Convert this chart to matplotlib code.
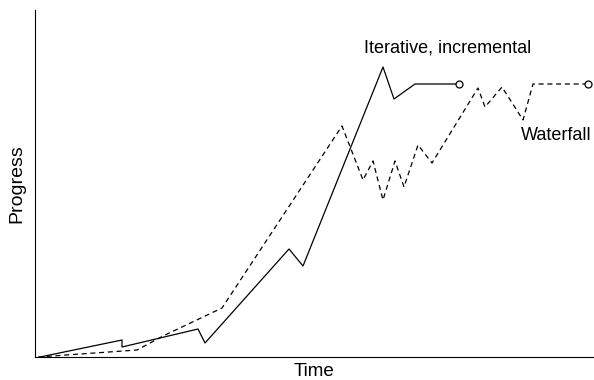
import matplotlib.pyplot as plt

# values (time units, progress units)
iter_time = [40, 122, 122, 198, 205, 289, 303, 383, 394, 415, 459]
iter_progress = [0, 17, 10, 28, 14, 108, 91, 290, 258, 273, 273]

water_time = [38, 137, 163, 222, 342, 363, 373, 383, 395, 404, 418, 432, 478, 485, 502, 523, 533, 588]
water_progress = [0, 7, 21, 49, 231, 177, 196, 157, 196, 170, 212, 194, 269, 250, 270, 237, 273, 273]

plt.rcParams["font.family"] = ["Liberation Sans", "DejaVu Sans"]

fig = plt.figure(figsize=(5.94, 3.8), dpi=100)
ax = fig.add_axes([35 / 594, 1 - 357 / 380, 1 - 35 / 594, 347 / 380])

ax.plot(iter_time, iter_progress, color="black", lw=0.9)
ax.plot(iter_time[-1], iter_progress[-1], "o", mfc="white", mec="black", ms=5, mew=0.9)

ax.plot(water_time, water_progress, color="black", lw=0.9, dashes=(4, 3))
ax.plot(water_time[-1], water_progress[-1], "o", mfc="white", mec="black", ms=5, mew=0.9)

ax.text(448, 309, "Iterative, incremental", ha="center", va="center", fontsize=13)
ax.text(556, 222, "Waterfall", ha="center", va="center", fontsize=13)

ax.set_xlim(35, 594)
ax.set_ylim(0, 347)
ax.set_xticks([])
ax.set_yticks([])
ax.spines["top"].set_visible(False)
ax.spines["right"].set_visible(False)
ax.set_xlabel("Time", fontsize=13.5, labelpad=4)
ax.set_ylabel("Progress", fontsize=14, labelpad=7)

fig.savefig("out.png", dpi=100)
